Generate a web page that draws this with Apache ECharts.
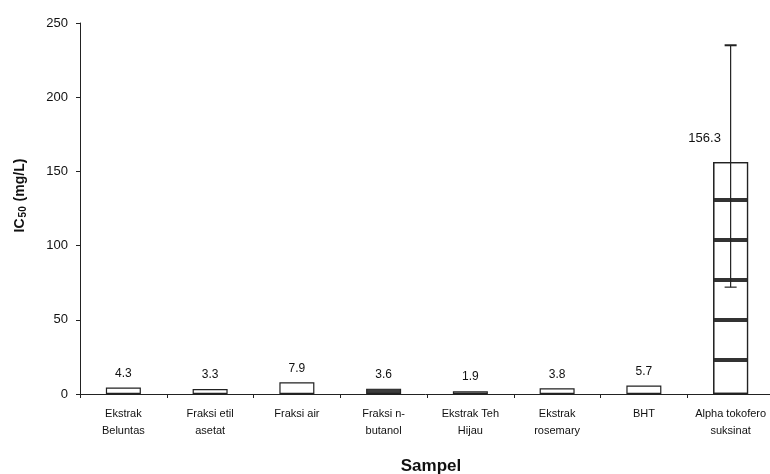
<!DOCTYPE html>
<html><head><meta charset="utf-8">
<script src="https://cdn.jsdelivr.net/npm/echarts@6/dist/echarts.min.js"></script>
<style>html,body{margin:0;padding:0;background:#fff}#c{width:770px;height:474px}</style>
</head><body><div id="c"></div>
<script>
var categories = ['Ekstrak\nBeluntas','Fraksi etil\nasetat','Fraksi air','Fraksi n-\nbutanol','Ekstrak Teh\nHijau','Ekstrak\nrosemary','BHT','Alpha tokofero\nsuksinat'];
var values = [4.3, 3.3, 7.9, 3.6, 1.9, 3.8, 5.7, 156.3];
var errLow = [null, null, null, null, null, null, null, 72];
var errHigh = [null, null, null, null, null, null, null, 235];
var yTicks = [0, 50, 100, 150, 200, 250];

var chart = echarts.init(document.getElementById('c'));
var barData = values.map(function (v, i) {
  var item = { value: v };
  if (i === 3) {
    item.itemStyle = { color: '#3c3c3c' };
  }
  if (i === values.length - 1) {
    item.label = { offset: [-26, -9], fontSize: 13 };
    item.itemStyle = {
      decal: { symbol: 'rect', symbolSize: 1, dashArrayX: [1, 0], dashArrayY: [2, 36, 2, 0], rotation: 0, color: '#333' }
    };
  }
  return item;
});
var errData = [];
errLow.forEach(function (lo, i) { if (lo !== null) errData.push([i, lo, errHigh[i]]); });

chart.setOption({
  animation: false,
  backgroundColor: '#fff',
  aria: { enabled: true, decal: { show: false } },
  textStyle: { fontFamily: 'Liberation Sans, Arial, sans-serif' },
  grid: { left: 80, right: -4, top: 23, bottom: 80, outerBoundsMode: 'none', containLabel: false },
  xAxis: {
    type: 'category',
    data: categories,
    name: 'Sampel',
    nameLocation: 'middle',
    nameGap: 64,
    nameTextStyle: { fontSize: 17, fontWeight: 'bold', color: '#111', padding: [0, 0, 0, 8] },
    axisLine: { lineStyle: { color: '#222', width: 1 } },
    axisTick: { show: true, alignWithLabel: false, length: 4, inside: false, lineStyle: { color: '#222' } },
    axisLabel: { fontSize: 11, color: '#111', lineHeight: 17, margin: 11, interval: 0 },
    splitLine: { show: false }
  },
  yAxis: {
    type: 'value',
    min: yTicks[0],
    max: yTicks[yTicks.length - 1],
    interval: 50,
    name: '{m|IC}{s|50}{m| (mg/L)}',
    nameLocation: 'middle',
    nameGap: 52,
    nameTextStyle: {
      padding: [0, 0, 0, 26],
      rich: {
        m: { fontSize: 14, fontWeight: 'bold', color: '#111' },
        s: { fontSize: 10, fontWeight: 'bold', color: '#111', verticalAlign: 'bottom', padding: [6, 1, 0, 1] }
      }
    },
    axisLine: { show: true, lineStyle: { color: '#222', width: 1 } },
    axisTick: { show: true, length: 4, lineStyle: { color: '#222' } },
    axisLabel: { fontSize: 13, color: '#111', margin: 12 },
    splitLine: { show: false }
  },
  series: [
    {
      type: 'bar',
      data: barData,
      barWidth: 35,
      itemStyle: { color: '#fff', borderColor: '#222', borderWidth: 1.2 },
      label: { show: true, position: 'top', distance: 8, fontSize: 12, color: '#111' }
    },
    {
      type: 'custom',
      data: errData,
      z: 5,
      renderItem: function (params, api) {
        var x = api.value(0);
        var lo = api.coord([x, api.value(1)]);
        var hi = api.coord([x, api.value(2)]);
        var w = 6;
        var st = { stroke: '#222', lineWidth: 1.2 };
        return {
          type: 'group',
          children: [
            { type: 'line', shape: { x1: lo[0], y1: lo[1], x2: hi[0], y2: hi[1] }, style: st },
            { type: 'line', shape: { x1: lo[0] - w, y1: lo[1], x2: lo[0] + w, y2: lo[1] }, style: st },
            { type: 'line', shape: { x1: hi[0] - w, y1: hi[1], x2: hi[0] + w, y2: hi[1] }, style: { stroke: '#222', lineWidth: 2 } }
          ]
        };
      }
    }
  ]
});
</script></body></html>
